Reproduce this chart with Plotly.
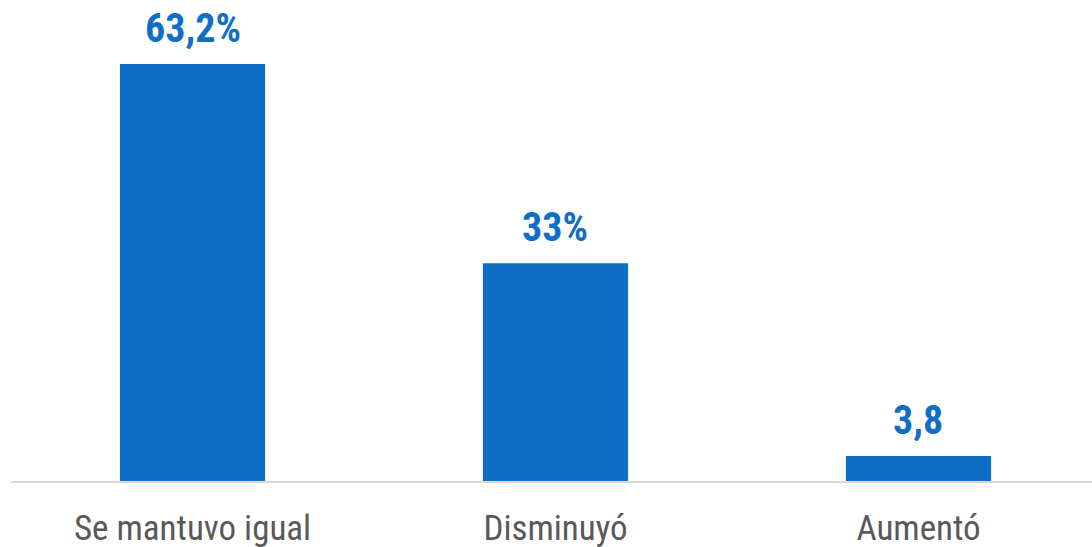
import plotly.graph_objects as go

categories = ["Se mantuvo igual", "Disminuyó", "Aumentó"]
values = [63.2, 33, 3.8]
value_labels = ["63,2%", "33%", "3,8"]

BLUE = "#0F6FC6"
FONT = "Liberation Sans Narrow, Arial Narrow, Roboto Condensed, DejaVu Sans Condensed, Roboto, sans-serif"

fig = go.Figure()
fig.add_trace(go.Bar(
    x=categories, y=values, width=0.4,
    marker=dict(color=BLUE, line=dict(width=0)),
    hoverinfo="skip",
))

for c, v, t in zip(categories, values, value_labels):
    fig.add_annotation(
        x=c, y=v, text="<b>%s</b>" % t, showarrow=False,
        yanchor="bottom", yshift=10,
        font=dict(family=FONT, size=40, color=BLUE),
    )

fig.update_layout(
    width=1092, height=547,
    margin=dict(l=11, r=0, t=0, b=66),
    paper_bgcolor="white", plot_bgcolor="white",
    showlegend=False,
    font=dict(family=FONT),
    xaxis=dict(
        range=[-0.5, 2.478], automargin=False,
        showline=True, linecolor="#D9D9D9", linewidth=2,
        ticks="outside", ticklen=15, tickcolor="rgba(0,0,0,0)",
        tickfont=dict(family=FONT, size=35, color="#595959"),
        showgrid=False, zeroline=False,
    ),
    yaxis=dict(
        range=[0, 72.9], visible=False, showgrid=False, zeroline=False,
        automargin=False,
    ),
)

fig.write_html(
    "out.html",
    config={"displayModeBar": False},
    post_script="document.body.style.margin='0';document.body.style.overflow='hidden';",
)
